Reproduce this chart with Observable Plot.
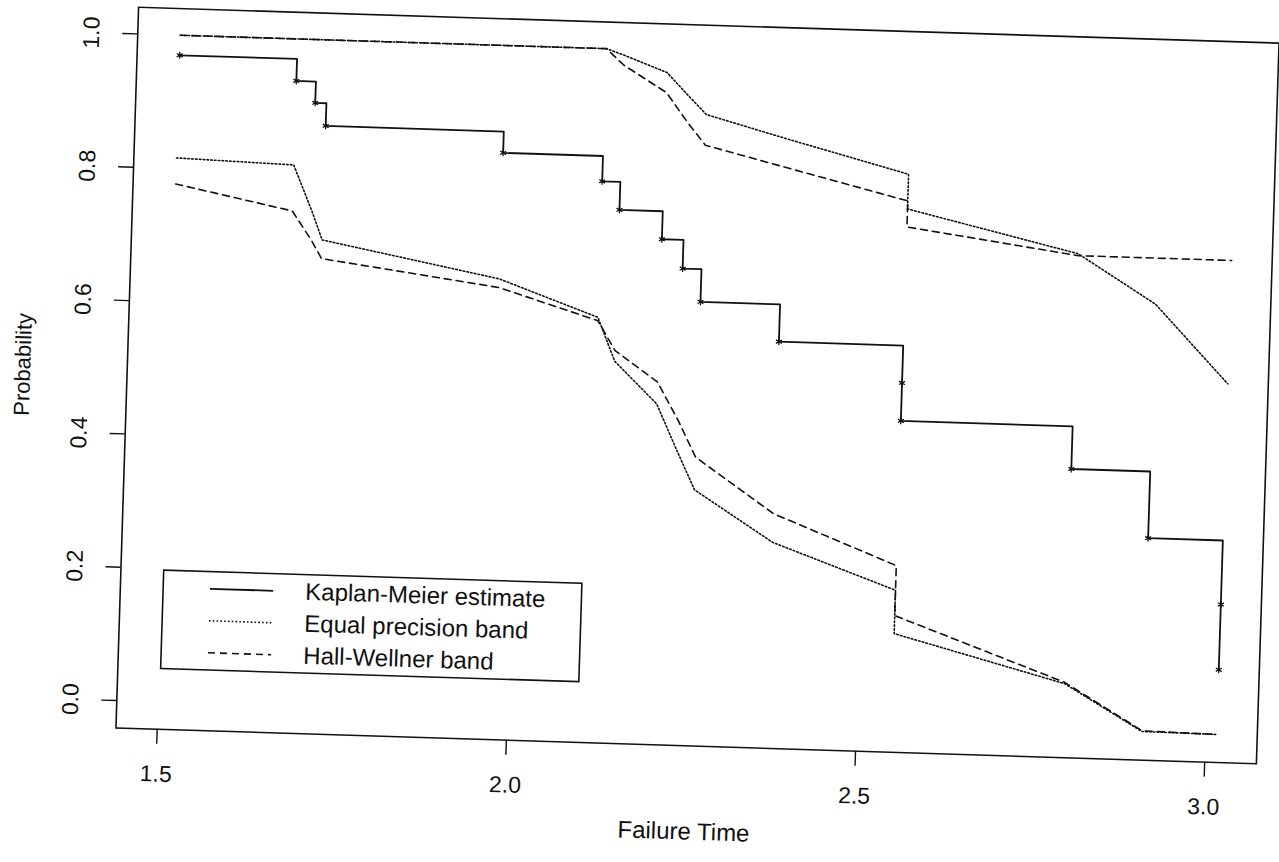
<!DOCTYPE html>
<html>
<head>
<meta charset="utf-8">
<script src="https://cdn.jsdelivr.net/npm/d3@7"></script>
<script src="https://cdn.jsdelivr.net/npm/@observablehq/plot@0.6"></script>
<style>
  body { margin: 0; background: #fff; }
  #wrap {
    position: relative; width: 1279px; height: 862px;
    transform: rotate(1.8deg); transform-origin: 697px 385px;
    font-family: "Liberation Sans", Arial, Helvetica, sans-serif;
  }
  #legend { position: absolute; left: 169px; top: 585.5px; }
</style>
</head>
<body>
<div id="wrap"></div>
<script>
// ---- data ----
const kmTime = [1.502, 1.670, 1.698, 1.714, 1.969, 2.112, 2.138, 2.200, 2.231, 2.258, 2.372, 2.550, 2.550, 2.796, 2.909, 3.016, 3.016];
const kmSurv = [0.970, 0.937, 0.905, 0.871, 0.839, 0.801, 0.759, 0.717, 0.674, 0.625, 0.569, 0.513, 0.456, 0.392, 0.292, 0.196, 0.098];

const epUpperX = [1.502, 2.112, 2.138, 2.200, 2.231, 2.258, 2.372, 2.550, 2.550, 2.796, 2.909, 3.016];
const epUpperY = [1.000, 1.000, 0.991, 0.967, 0.934, 0.906, 0.874, 0.826, 0.774, 0.715, 0.643, 0.527];
const epLowerX = [1.502, 1.670, 1.698, 1.714, 1.969, 2.112, 2.138, 2.200, 2.231, 2.258, 2.372, 2.550, 2.550, 2.796, 2.909, 3.016];
const epLowerY = [0.816, 0.811, 0.743, 0.700, 0.650, 0.597, 0.532, 0.470, 0.401, 0.343, 0.268, 0.202, 0.137, 0.070, 0.002, 0.001];

const hwUpperX = [1.502, 2.112, 2.138, 2.200, 2.231, 2.258, 2.372, 2.550, 2.550, 2.796, 2.909, 3.016];
const hwUpperY = [1.000, 1.000, 0.976, 0.937, 0.894, 0.860, 0.831, 0.786, 0.747, 0.712, 0.712, 0.712];
const hwLowerX = [1.502, 1.670, 1.698, 1.714, 1.969, 2.112, 2.138, 2.200, 2.231, 2.258, 2.372, 2.550, 2.550, 2.796, 2.909, 3.016];
const hwLowerY = [0.777, 0.742, 0.700, 0.672, 0.637, 0.592, 0.548, 0.503, 0.447, 0.392, 0.311, 0.239, 0.164, 0.072, 0.003, 0.001];

const xTicks = [1.5, 2.0, 2.5, 3.0];
const yTicks = [0.0, 0.2, 0.4, 0.6, 0.8, 1.0];
const legendLabels = ["Kaplan-Meier estimate", "Equal precision band", "Hall-Wellner band"];
const xLabel = "Failure Time";
const yLabel = "Probability";

// ---- build tables ----
const zip = (xs, ys) => xs.map((x, i) => ({x, y: ys[i]}));
const km = zip(kmTime, kmSurv);
const epU = zip(epUpperX, epUpperY), epL = zip(epLowerX, epLowerY);
const hwU = zip(hwUpperX, hwUpperY), hwL = zip(hwLowerX, hwLowerY);

const ink = "#111";
const dotted = "1.6,2.2";
const dashed = "7,5";
const fmt = d3.format(".1f");

const chart = Plot.plot({
  width: 1279, height: 862,
  marginLeft: 126.5, marginRight: 11.5, marginTop: 24.5, marginBottom: 116.5,
  style: {fontFamily: "'Liberation Sans', Arial, Helvetica, sans-serif", fontSize: "23px", background: "white", color: ink},
  x: {domain: [1.441, 3.074]},
  y: {domain: [-0.041, 1.040]},
  marks: [
    Plot.line(hwU, {x: "x", y: "y", stroke: ink, strokeWidth: 1.6, strokeDasharray: dashed}),
    Plot.line(hwL, {x: "x", y: "y", stroke: ink, strokeWidth: 1.6, strokeDasharray: dashed}),
    Plot.line(epU, {x: "x", y: "y", stroke: ink, strokeWidth: 1.6, strokeDasharray: dotted}),
    Plot.line(epL, {x: "x", y: "y", stroke: ink, strokeWidth: 1.6, strokeDasharray: dotted}),
    Plot.line(km, {x: "x", y: "y", curve: "step-after", stroke: ink, strokeWidth: 1.8}),
    Plot.dot(km, {x: "x", y: "y", symbol: "asterisk", r: 3.2, stroke: ink, strokeWidth: 1.3}),
    Plot.axisX(xTicks, {tickSize: 15, tickPadding: 21, tickFormat: fmt, fontSize: 23, strokeWidth: 1.4, label: null}),
    Plot.axisY(yTicks, {tickSize: 15, tickFormat: () => "", strokeWidth: 1.4, label: null}),
    Plot.text(yTicks, {y: d => d, text: d => fmt(d), frameAnchor: "left", dx: -46, rotate: -90,
      textAnchor: "middle", lineAnchor: "middle", fontSize: 23, fill: ink}),
    Plot.text([xLabel], {frameAnchor: "bottom", dy: 86, textAnchor: "middle", lineAnchor: "middle", fontSize: 24, fill: ink}),
    Plot.text([yLabel], {frameAnchor: "left", dx: -104, rotate: -90, textAnchor: "middle", lineAnchor: "middle", fontSize: 22, fill: ink}),
    Plot.frame({stroke: ink, strokeWidth: 1.6})
  ]
});

const wrap = document.getElementById("wrap");
wrap.appendChild(chart);

// ---- legend (inside the plot, lower left) ----
const lw = 420, lh = 100;
const rows = [17.5, 49.5, 81.5];
const dashes = [null, dotted, dashed];
const leg = d3.create("svg").attr("id", "legend").attr("width", lw).attr("height", lh)
  .style("overflow", "visible");
leg.append("rect").attr("x", 0.8).attr("y", 0.8).attr("width", lw - 1.6).attr("height", lh - 1.6)
  .attr("fill", "white").attr("stroke", ink).attr("stroke-width", 1.6);
legendLabels.forEach((lab, i) => {
  leg.append("line").attr("x1", 47.6).attr("x2", 110.8).attr("y1", rows[i] + 0.5).attr("y2", rows[i] + 0.5)
    .attr("stroke", ink).attr("stroke-width", i === 0 ? 1.8 : 1.6)
    .attr("stroke-dasharray", dashes[i]);
  leg.append("text").attr("x", 143).attr("y", rows[i] + 8.4).attr("font-size", 24)
    .attr("font-family", "'Liberation Sans', Arial, Helvetica, sans-serif").attr("fill", ink).text(lab);
});
wrap.appendChild(leg.node());
</script>
</body>
</html>
